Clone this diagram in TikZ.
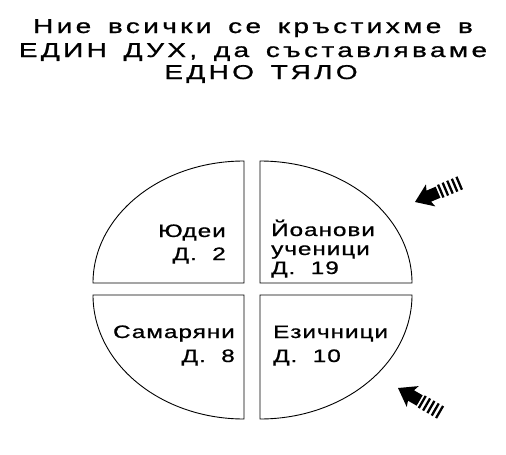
\documentclass[tikz,border=0pt]{standalone}
\usepackage{fontspec}
\setmainfont{Liberation Sans}
\newfontfamily\titlefont[LetterSpace=12, WordSpace=1.5, FakeBold=0.8]{Liberation Sans}
\newfontfamily\labelfont[LetterSpace=4, FakeBold=0.8]{Liberation Sans}

% wide letters, as in the printed figure
\newcommand{\wide}[1]{\scalebox{1.4}[1]{#1}}
\newcommand{\wlbl}[1]{\scalebox{1.35}[1]{#1}}

\tikzset{
  quad/.style={draw=black, line width=0.9pt},
  lbl/.style={font=\labelfont\fontsize{18}{22}\selectfont, inner sep=0pt},
  ttl/.style={font=\titlefont\fontsize{20}{23}\selectfont, inner sep=0pt, anchor=base},
  stripe/.style={line width=2.3pt},
}

% striped arrow: tip at (#1,#2), pointing at angle #3
\newcommand{\hatcharrow}[3]{%
  \begin{scope}[shift={(#1,#2)}, rotate=#3]
    \fill (0,0) -- (-17,12) -- (-15,6) -- (-25,6) -- (-25,-6) -- (-15,-6) -- (-17,-12) -- cycle;
    \foreach \s in {-28,-33,-38,-43,-48}
      \draw[stripe] (\s,-7) -- (\s,7);
  \end{scope}}

\begin{document}
\begin{tikzpicture}[x=1pt, y=-1pt]

    \useasboundingbox (0,0) rectangle (506,455);

    % title
    \node[ttl] (title1) at (253,33) {\wide{Ние всички се кръстихме в}};
    \node[ttl] (title2) at (253,57) {\wide{ЕДИН ДУХ, да съставляваме}};
    \node[ttl] (title3) at (261,79) {\wide{ЕДНО ТЯЛО}};

    % four quarters of the body
    \draw[quad] (244,283) -- (93,283) arc (180:270:151 and 122) -- cycle;
    \draw[quad] (260,283) -- (260,161) arc (270:360:152 and 122) -- cycle;
    \draw[quad] (244,295) -- (244,419) arc (90:180:151 and 124) -- cycle;
    \draw[quad] (260,295) -- (412,295) arc (0:90:152 and 124) -- cycle;

    % labels
    \node[lbl, anchor=base east] (jews) at (226,237) {\wlbl{Юдеи}};
    \node[lbl, anchor=base east] (jewsref) at (226,260) {\wlbl{Д.\ \ 2}};
    \node[lbl, anchor=base west] (john) at (271,236) {\wlbl{Йоанови}};
    \node[lbl, anchor=base west] (disciples) at (271,255) {\wlbl{ученици}};
    \node[lbl, anchor=base west] (johnref) at (271,274) {\wlbl{Д.\ \ 19}};
    \node[lbl, anchor=base east] (samar) at (235,338) {\wlbl{Самаряни}};
    \node[lbl, anchor=base east] (samarref) at (235,362) {\wlbl{Д.\ \ 8}};
    \node[lbl, anchor=base west] (gent) at (273,338) {\wlbl{Езичници}};
    \node[lbl, anchor=base west] (gentref) at (273,362) {\wlbl{Д.\ \ 10}};

    % arrows
    \hatcharrow{415}{202}{203}
    \hatcharrow{398}{388}{150}

  \end{tikzpicture}
\end{document}
